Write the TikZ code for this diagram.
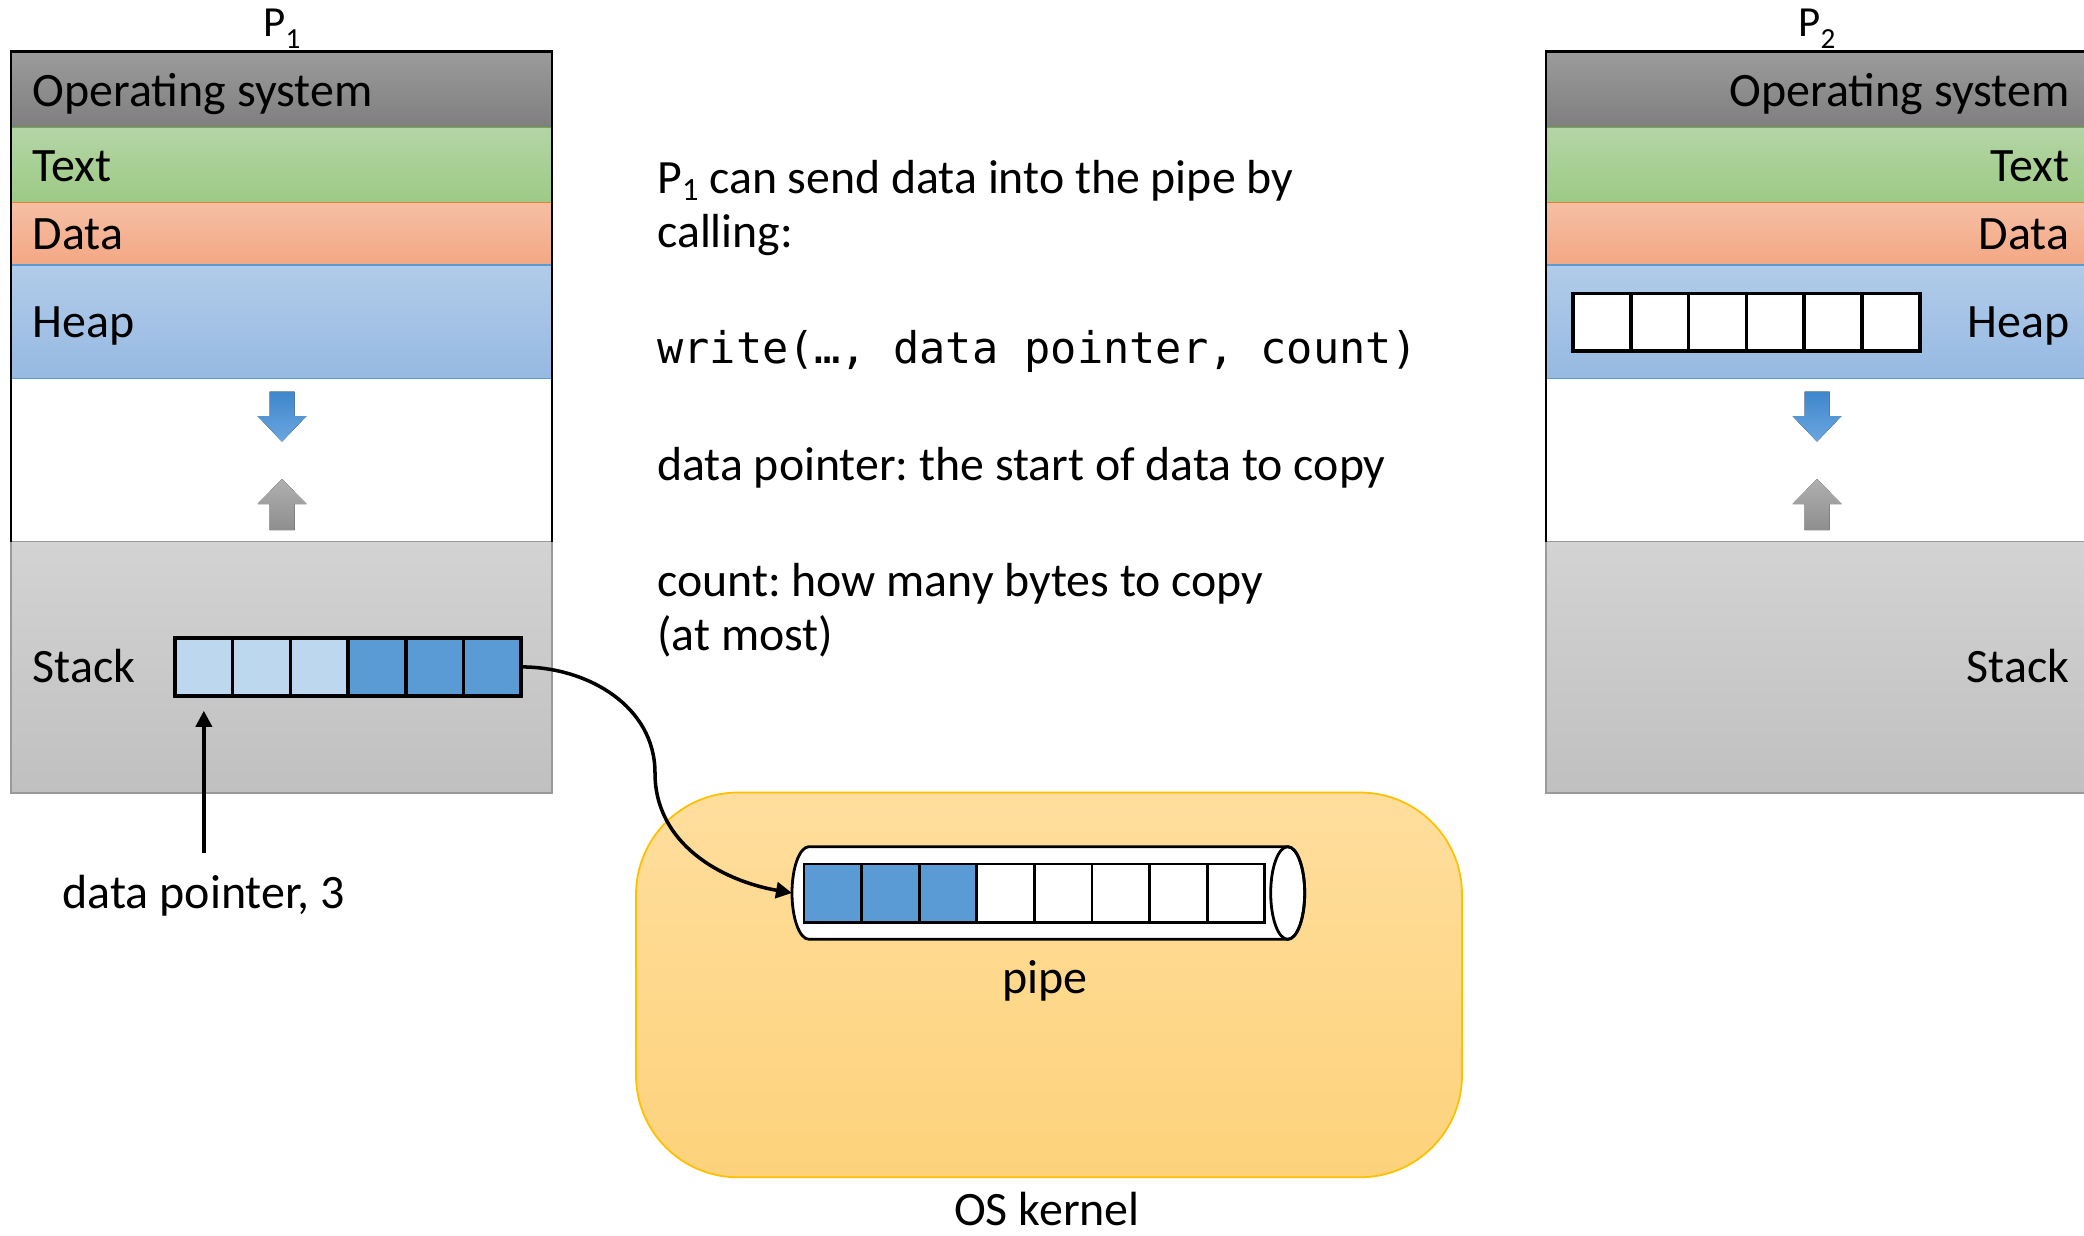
\documentclass[tikz,border=0pt]{standalone}
\usepackage{fontspec}
\setmainfont{Carlito}
\setmonofont{DejaVu Sans Mono}
\usetikzlibrary{arrows.meta,positioning,calc}
\definecolor{OSTop}{HTML}{9B9B9B}
\definecolor{OSBot}{HTML}{7F7F7F}
\definecolor{TextTop}{HTML}{B4D5A6}
\definecolor{TextBot}{HTML}{9DCA85}
\definecolor{TextLine}{HTML}{70AD47}
\definecolor{DataTop}{HTML}{F5BFA4}
\definecolor{DataBot}{HTML}{F4A784}
\definecolor{DataLine}{HTML}{ED7D31}
\definecolor{HeapTop}{HTML}{B1CCE9}
\definecolor{HeapBot}{HTML}{96B9E2}
\definecolor{HeapLine}{HTML}{5B9BD5}
\definecolor{StackTop}{HTML}{D3D3D3}
\definecolor{StackBot}{HTML}{C0C0C0}
\definecolor{StackLine}{HTML}{9A9A9A}
\definecolor{CellLight}{HTML}{BDD7EE}
\definecolor{CellBlue}{HTML}{5B9BD5}
\definecolor{KernelTop}{HTML}{FFDE9D}
\definecolor{KernelBot}{HTML}{FDD27B}
\definecolor{KernelLine}{HTML}{FFC000}
\definecolor{GrowBlueTop}{HTML}{3E87CB}
\definecolor{GrowBlueBot}{HTML}{6BA6E0}
\definecolor{GrowGrayTop}{HTML}{B0B0B0}
\definecolor{GrowGrayBot}{HTML}{8E8E8E}
\newcommand{\lowsub}[2][.28em]{\raisebox{-#1}{\scalebox{.68}{#2}}}

\begin{document}
\frenchspacing
\begin{tikzpicture}[x=1cm,y=1cm,
  lbl/.style={inner sep=0pt,font=\fontsize{13.65}{16}\selectfont},
  note/.style={anchor=base west,inner sep=0pt,font=\fontsize{13.6}{16}\selectfont},
  OS-band/.style={top color=OSTop,bottom color=OSBot,draw=OSBot},
  Text-band/.style={top color=TextTop,bottom color=TextBot,draw=TextLine},
  Data-band/.style={top color=DataTop,bottom color=DataBot,draw=DataLine},
  Heap-band/.style={top color=HeapTop,bottom color=HeapBot,draw=HeapLine},
  Stack-band/.style={top color=StackTop,bottom color=StackBot,draw=StackLine},
  cell/.style={draw,line width=1pt,inner sep=0pt,outer sep=0pt,
    minimum width=.577cm,minimum height=.583cm},
  link/.style={line width=1pt,-{Triangle[length=.16cm,width=.16cm]}},
  heapgrow/.style={top color=GrowBlueTop,bottom color=GrowBlueBot},
  stackgrow/.style={top color=GrowGrayTop,bottom color=GrowGrayBot},
  kernel/.style={rounded corners=1.02cm,top color=KernelTop,bottom color=KernelBot,
    draw=KernelLine,line width=.5pt}]
  \useasboundingbox (0,0) rectangle (20.84,-12.35);

  % the two address spaces
  \foreach \px/\pn/\tx/\anc in {0.11/1/0.32/base west,15.46/2/20.70/base east}{
    \foreach \lay/\yt/\yb/\yl/\txt in {OS/.517/1.273/1.06/Operating system,
        Text/1.273/2.023/1.81/Text,Data/2.023/2.65/2.493/Data,
        Heap/2.65/3.783/3.373/Heap,Stack/5.417/7.93/6.827/Stack}{
      \draw[\lay-band,line width=.4pt] (\px,-\yt) rectangle (\px+5.41,-\yb);
      \node[lbl,anchor=\anc] (P\pn-\lay) at (\tx,-\yl) {\txt};
    }
    \draw[line width=.7pt] (\px,-5.417) -- (\px,-.517) -- (\px+5.41,-.517) -- (\px+5.41,-5.417);
    \node[anchor=base,inner sep=0pt,font=\fontsize{12.2}{14}\selectfont] (P\pn)
      at (\px+2.71,-.367) {P\lowsub{\pn}};
    % heap grows down, stack grows up
    \fill[heapgrow,shift={(\px+2.71,0)}] (-.125,-3.917) -- (.125,-3.917) -- (.125,-4.16)
      -- (.245,-4.16) -- (0,-4.417) -- (-.245,-4.16) -- (-.125,-4.16) -- cycle;
    \fill[stackgrow,shift={(\px+2.71,0)}] (0,-4.79) -- (.245,-5.04) -- (.125,-5.04)
      -- (.125,-5.30) -- (-.125,-5.30) -- (-.125,-5.04) -- (-.245,-5.04) -- cycle;
  }

  % buffer on the stack of P1, empty buffer on the heap of P2
  \foreach \c [count=\i] in {CellLight,CellLight,CellLight,CellBlue,CellBlue,CellBlue}
    \node[cell,fill=\c] (s\i) at ({1.75+.577*(\i-.5)},-6.669) {};
  \foreach \i in {1,...,6}
    \node[cell,fill=white,minimum width=.578cm,minimum height=.577cm] (h\i)
      at ({15.73+.578*(\i-.5)},-3.222) {};

  % kernel and the pipe inside it
  \draw[kernel] (6.36,-7.925) rectangle (14.62,-11.773);
  \filldraw[fill=white,line width=.8pt] (8.09,-8.467) -- (12.877,-8.467)
    arc[start angle=90,end angle=-90,x radius=.17,y radius=.463] -- (8.09,-9.393)
    arc[start angle=-90,end angle=-270,x radius=.17,y radius=.463] -- cycle;
  \draw[line width=.8pt] (12.877,-8.93) ellipse[x radius=.17,y radius=.463];
  \coordinate (pipein) at (7.92,-8.93);
  \foreach \c [count=\i] in {CellBlue,CellBlue,CellBlue,white,white,white,white,white}
    \node[cell,fill=\c,minimum width=.576cm,minimum height=.587cm,line width=.8pt] (q\i)
      at ({8.04+.576*(\i-.5)},-8.934) {};
  \node[lbl,anchor=base] (pipename) at (10.45,-9.933) {pipe};
  \node[lbl,anchor=base] (kernelname) at (10.47,-12.25) {OS kernel};

  % explanation
  \node[note] (say1) at (6.566,-1.93) {P\lowsub[.16em]{1} can send data into the pipe by};
  \node[note] (say2) at (6.566,-2.47) {calling:};
  \node[note,font=\ttfamily\fontsize{12.4}{15}\selectfont] (call) at (6.566,-3.63)
    {write(…, data pointer, count)};
  \node[note] (ptrnote) at (6.566,-4.80) {data pointer: the start of data to copy};
  \node[note] (cntnote1) at (6.566,-5.96) {count: how many bytes to copy};
  \node[note] (cntnote2) at (6.566,-6.50) {(at most)};

  \node[lbl,anchor=base,inner sep=.21cm] (dpname) at (2.0385,-9.08) {data pointer, 3};
  \draw[link,shorten >=.147cm] (dpname) -- (s1.south);
  \draw[link] (s6.east) to[out=0,in=90] (6.55,-7.73) to[out=-90,in=170] (pipein);
\end{tikzpicture}
\end{document}
